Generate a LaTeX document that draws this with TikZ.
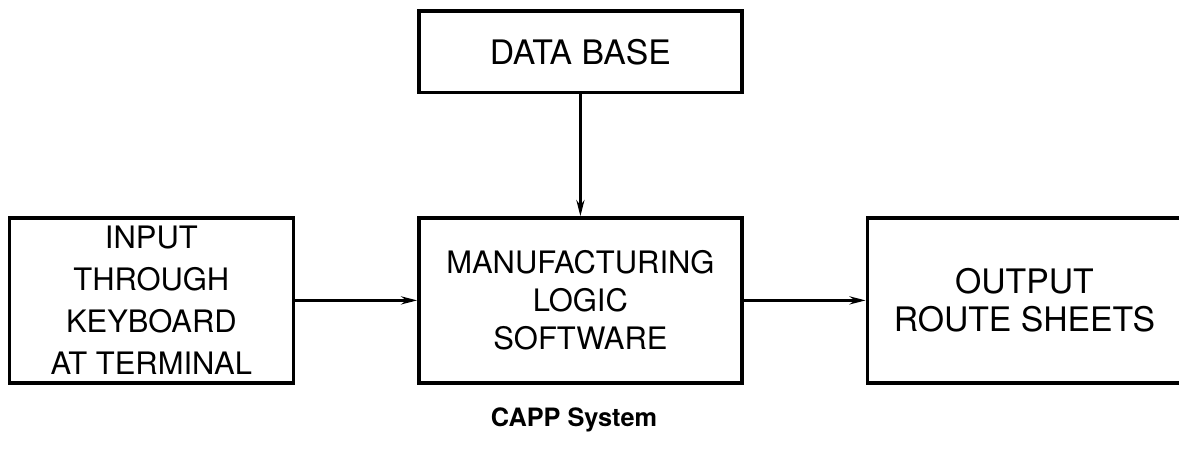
\documentclass[tikz,border=0pt]{standalone}
\usepackage{fontspec}
\setmainfont{TeX Gyre Heros}
\usetikzlibrary{arrows.meta, positioning}

\begin{document}
\begin{tikzpicture}[>={Stealth[length=0.4cm, width=0.2cm]}, node distance=3.05cm,
  block/.style={draw, line width=2.6pt, align=center, minimum height=4.12cm, font=\fontsize{22}{27}\selectfont}]
  \useasboundingbox (0,0) rectangle (29.475,11.25);
  \node[block, minimum width=8.07cm] (logic) at (14.51,3.74) {MANUFACTURING\\LOGIC\\SOFTWARE};
  \node[block, minimum width=7.1cm, left=of logic, font=\fontsize{22}{30}\selectfont] (input) {INPUT\\THROUGH\\KEYBOARD\\AT TERMINAL};
  \node[block, minimum width=7.85cm, right=of logic, font=\fontsize{24}{27}\selectfont] (output) {OUTPUT\\ROUTE SHEETS};
  \node[block, minimum width=8.07cm, minimum height=2.03cm, above=of logic, font=\fontsize{24}{27}\selectfont] (db) {DATA BASE};
  \draw[->, line width=2pt] (db) -- (logic);
  \draw[->, line width=2pt] (input) -- (logic);
  \draw[->, line width=2pt] (logic) -- (output);
  \node[font=\bfseries\fontsize{18}{21}\selectfont] (caption) at (14.35,0.75) {CAPP System};
\end{tikzpicture}
\end{document}
